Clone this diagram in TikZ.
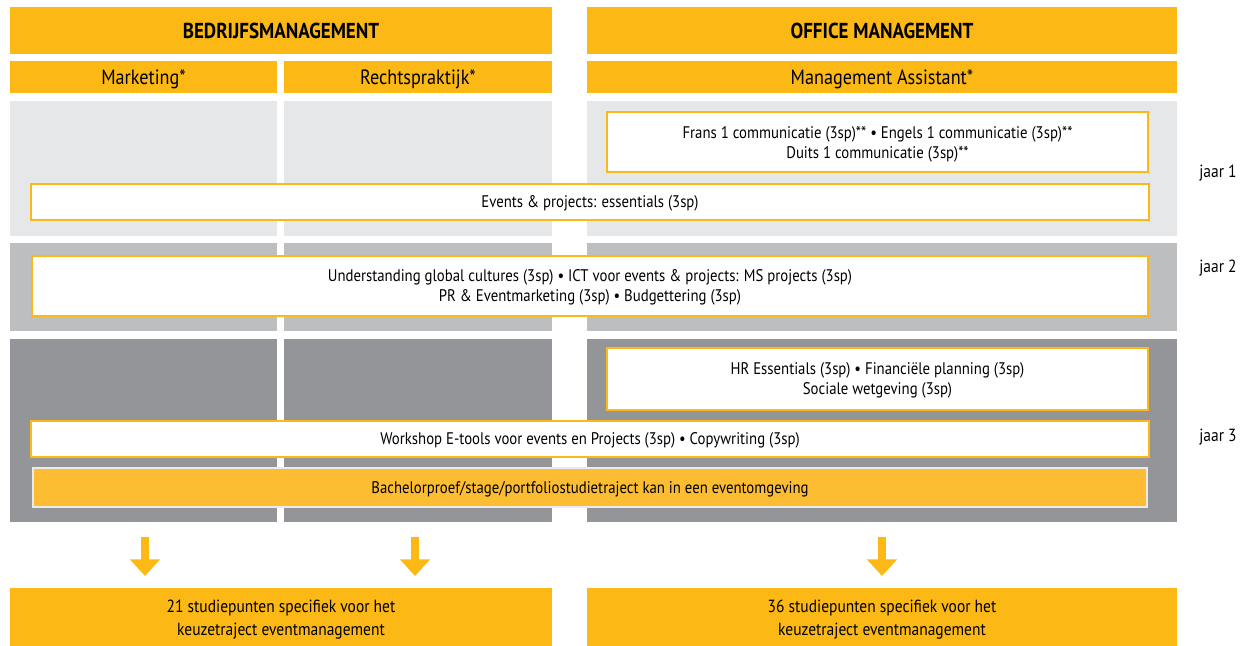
\documentclass[tikz,border=0pt]{standalone}
\usepackage{fontspec}
\setmainfont{PT Sans}[FakeStretch=0.88]
\usetikzlibrary{arrows.meta}
\definecolor{ygold}{RGB}{252,184,20}
\definecolor{ylight}{RGB}{253,189,50}
\definecolor{gA}{RGB}{230,231,232}
\definecolor{gB}{RGB}{188,190,192}
\definecolor{gC}{RGB}{147,149,152}
\begin{document}
\begin{tikzpicture}[x=0.75pt,y=-0.75pt,
  wh/.style 2 args={minimum width={#1*0.75pt}, minimum height={#2*0.75pt}},
  hdr/.style={fill=ygold, inner sep=0pt, font=\fontsize{16.2}{19}\selectfont\bfseries},
  sub/.style={fill=ygold, inner sep=0pt, text depth=0pt, font=\fontsize{15.5}{18}\selectfont},
  course/.style={fill=white, draw=ygold, line width=1.5pt, inner sep=0pt, text depth=0pt, align=center, font=\fontsize{12.6}{15}\selectfont},
  thesis/.style={fill=ylight, draw=white!92!black, line width=1.5pt, inner sep=0pt, text depth=0pt, align=center, font=\fontsize{12.6}{15}\selectfont},
  total/.style={fill=ygold, inner sep=0pt, text depth=0pt, align=center, font=\fontsize{13.2}{17.5}\selectfont},
  yearlbl/.style={inner sep=0pt, text depth=0pt, font=\fontsize{13.2}{15}\selectfont},
  fatarrow/.style={draw=ygold, line width=6.5pt, -{Triangle[width=22pt,length=12.5pt]}}
]
\useasboundingbox (0,0) rectangle (1250,646);
% headers
\node[hdr, wh={542}{47}] (hdrL) at (281,30.5) {BEDRIJFSMANAGEMENT};
\node[hdr, wh={590}{47}] (hdrR) at (882,30.5) {OFFICE MANAGEMENT};
\node[sub, wh={267}{32}] (subM) at (143.5,77) {Marketing*};
\node[sub, wh={268}{32}] (subR) at (418,77) {Rechtspraktijk*};
\node[sub, wh={590}{32}] (subA) at (882,77) {Management Assistant*};
% year bands
\fill[gA] (10,101) rectangle (277,236);
\fill[gA] (284,101) rectangle (552,236);
\fill[gA] (587,101) rectangle (1177,236);
\fill[gB] (10,243) rectangle (277,331);
\fill[gB] (284,243) rectangle (552,331);
\fill[gB] (587,243) rectangle (1177,331);
\fill[gC] (10,339) rectangle (277,522);
\fill[gC] (284,339) rectangle (552,522);
\fill[gC] (587,339) rectangle (1177,522);
% courses
\node[course, wh={541}{60}] (frans) at (877.5,142) {Frans 1 communicatie (3sp)** • Engels 1 communicatie (3sp)**\\Duits 1 communicatie (3sp)**};
\node[course, wh={1118}{36}] (events) at (590,202) {Events \& projects: essentials (3sp)};
\node[course, wh={1116}{60}] (global) at (590,286) {Understanding global cultures (3sp) • ICT voor events \& projects: MS projects (3sp)\\PR \& Eventmarketing (3sp) • Budgettering (3sp)};
\node[course, wh={541}{62}] (hr) at (877.5,379) {HR Essentials (3sp) • Financiële planning (3sp)\\Sociale wetgeving (3sp)};
\node[course, wh={1118}{36}] (etools) at (590,439) {Workshop E-tools voor events en Projects (3sp) • Copywriting (3sp)};
\node[thesis, wh={1114}{39}] (thesis) at (590,487.5) {Bachelorproef/stage/portfoliostudietraject kan in een eventomgeving};
% year labels
\node[yearlbl] (j1) at (1218,171) {jaar 1};
\node[yearlbl] (j2) at (1218,266) {jaar 2};
\node[yearlbl] (j3) at (1218,435) {jaar 3};
% totals
\node[total, wh={542}{60}] (totL) at (281,618) {21 studiepunten specifiek voor het\\keuzetraject eventmanagement};
\node[total, wh={590}{60}] (totR) at (882,618) {36 studiepunten specifiek voor het\\keuzetraject eventmanagement};
% arrows
\coordinate (a1s) at (145,537); \coordinate (a1e) at (145,576);
\coordinate (a2s) at (415,537); \coordinate (a2e) at (415,576);
\coordinate (a3s) at (882,537); \coordinate (a3e) at (882,576);
\draw[fatarrow] (a1s) -- (a1e);
\draw[fatarrow] (a2s) -- (a2e);
\draw[fatarrow] (a3s) -- (a3e);
\end{tikzpicture}
\end{document}
